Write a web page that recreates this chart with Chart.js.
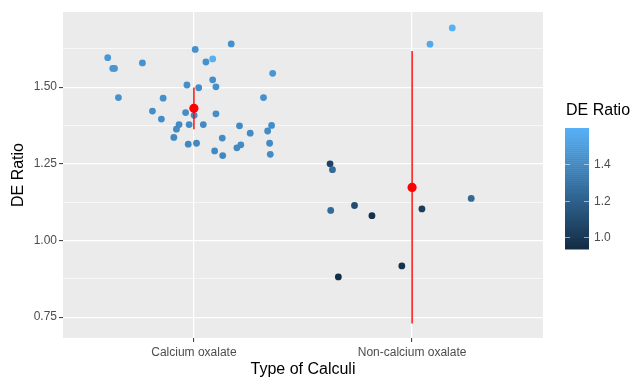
<!DOCTYPE html>
<html>
<head>
<meta charset="utf-8">
<script src="https://cdn.jsdelivr.net/npm/chart.js@4"></script>
<style>
  html, body { margin: 0; padding: 0; background: #fff; }
  #wrap { width: 634px; height: 377px; }
</style>
</head>
<body>
<div id="wrap"><canvas id="chart" width="634" height="377"></canvas></div>
<script>
// categories on the x axis
const categories = ["Calcium oxalate", "Non-calcium oxalate"];

// jittered points, Calcium oxalate
const caX = [0.605, 0.628, 0.636, 0.764, 1.006, 1.171, 1.086, 1.055, 1.361, 1.086,
             0.968, 1.022, 1.101, 0.654, 0.859, 1.319, 0.810, 0.962, 1.001, 1.101,
             0.851, 0.932, 0.920, 0.978, 1.043, 1.209, 1.356, 1.338, 1.258, 0.908,
             1.130, 0.974, 1.012, 1.215, 1.197, 1.347, 1.095, 1.132, 1.350];
const caY = [1.596, 1.561, 1.561, 1.579, 1.623, 1.641, 1.592, 1.582, 1.545, 1.524,
             1.507, 1.498, 1.501, 1.466, 1.464, 1.466, 1.422, 1.417, 1.408, 1.413,
             1.396, 1.378, 1.363, 1.378, 1.378, 1.374, 1.375, 1.357, 1.350, 1.336,
             1.334, 1.314, 1.317, 1.312, 1.302, 1.317, 1.292, 1.277, 1.281];
// DE ratio (colour) for each of those points
const caShade = [1.47, 1.46, 1.46, 1.45, 1.44, 1.44, 1.59, 1.44, 1.46, 1.43,
                 1.43, 1.42, 1.43, 1.44, 1.43, 1.44, 1.42, 1.42, 1.41, 1.42,
                 1.42, 1.41, 1.41, 1.41, 1.41, 1.41, 1.42, 1.41, 1.41, 1.40,
                 1.41, 1.40, 1.40, 1.41, 1.40, 1.41, 1.40, 1.40, 1.41];

// jittered points, Non-calcium oxalate
const ncX = [2.184, 2.082, 1.624, 1.635, 1.627, 1.736, 1.816, 2.045, 2.271, 1.953, 1.662];
const ncY = [1.693, 1.640, 1.250, 1.231, 1.098, 1.114, 1.081, 1.103, 1.137, 0.917, 0.881];
const ncShade = [1.595, 1.56, 1.06, 1.25, 1.25, 1.10, 0.96, 1.02, 1.24, 0.97, 0.95];

// summary: mean and error bar per category
const meanY = [1.431, 1.173];
const barLo = [1.363, 0.729];
const barHi = [1.499, 1.618];

// axis and legend ticks
const yTicks = [0.75, 1.00, 1.25, 1.50];
const legendTicks = [1.0, 1.2, 1.4];
const shadeMin = 0.937, shadeMax = 1.595;

const FONT = "'Liberation Sans', Arial, sans-serif";
const lowCol = [0x13, 0x2B, 0x43], highCol = [0x56, 0xB1, 0xF7];

function shadeColor(v) {
  let t = (v - shadeMin) / (shadeMax - shadeMin);
  t = Math.max(0, Math.min(1, t));
  const c = lowCol.map((a, i) => Math.round(a + (highCol[i] - a) * t));
  return `rgb(${c[0]},${c[1]},${c[2]})`;
}

// minor gridlines half way between the major ones
const yMinor = yTicks.slice(1).map((v, i) => (v + yTicks[i]) / 2);
yMinor.push(yTicks[yTicks.length - 1] + (yTicks[1] - yTicks[0]) / 2);
const isMajor = v => yTicks.some(t => Math.abs(t - v) < 1e-9);

const panelBg = {
  id: 'panelBg',
  beforeDraw(chart) {
    const { ctx, chartArea: a } = chart;
    ctx.save();
    ctx.fillStyle = '#EBEBEB';
    ctx.fillRect(a.left, a.top, a.right - a.left, a.bottom - a.top);
    ctx.restore();
  }
};

// colour bar legend on the right
const colorBar = {
  id: 'colorBar',
  afterDraw(chart) {
    const { ctx } = chart;
    const x0 = 565, w = 24, top = 128, bottom = 249;
    const valToY = v => bottom - (v - shadeMin) / (shadeMax - shadeMin) * (bottom - top);
    ctx.save();
    ctx.fillStyle = '#000';
    ctx.font = `16px ${FONT}`;
    ctx.textBaseline = 'middle';
    ctx.textAlign = 'left';
    ctx.fillText('DE Ratio', 566, 111);

    const steps = 60;
    for (let i = 0; i < steps; i++) {
      const v0 = shadeMin + (shadeMax - shadeMin) * i / steps;
      const v1 = shadeMin + (shadeMax - shadeMin) * (i + 1) / steps;
      ctx.fillStyle = shadeColor((v0 + v1) / 2);
      const y1 = valToY(v1), y0 = valToY(v0);
      ctx.fillRect(x0, y1, w, y0 - y1 + 0.5);
    }
    ctx.strokeStyle = 'rgba(255,255,255,0.55)';
    ctx.lineWidth = 1;
    ctx.font = `12px ${FONT}`;
    ctx.fillStyle = '#4D4D4D';
    legendTicks.forEach(v => {
      const y = Math.round(valToY(v)) + 0.5;
      ctx.beginPath();
      ctx.moveTo(x0, y); ctx.lineTo(x0 + 5, y);
      ctx.moveTo(x0 + w - 5, y); ctx.lineTo(x0 + w, y);
      ctx.stroke();
      ctx.fillText(v.toFixed(1), x0 + w + 5, y);
    });
    ctx.restore();
  }
};

const ctx = document.getElementById('chart').getContext('2d');
new Chart(ctx, {
  type: 'scatter',
  data: {
    datasets: [
      {
        label: 'mean',
        data: categories.map((c, i) => ({ x: i + 1, y: meanY[i] })),
        pointRadius: 4.6,
        pointBackgroundColor: '#FF0000',
        pointBorderWidth: 0,
        order: 0
      },
      ...categories.map((c, i) => ({
        label: 'bar ' + c,
        type: 'line',
        data: [{ x: i + 1, y: barLo[i] }, { x: i + 1, y: barHi[i] }],
        borderColor: '#FF0000',
        borderWidth: 1.4,
        pointRadius: 0,
        order: 1
      })),
      {
        label: categories[0],
        data: caX.map((x, i) => ({ x, y: caY[i] })),
        pointRadius: 3.4,
        pointBackgroundColor: caShade.map(shadeColor),
        pointBorderWidth: 0,
        order: 2
      },
      {
        label: categories[1],
        data: ncX.map((x, i) => ({ x, y: ncY[i] })),
        pointRadius: 3.4,
        pointBackgroundColor: ncShade.map(shadeColor),
        pointBorderWidth: 0,
        order: 2
      }
    ]
  },
  options: {
    responsive: false,
    animation: false,
    layout: { padding: { top: 12, right: 91, left: 0, bottom: 0 } },
    plugins: {
      legend: { display: false },
      tooltip: { enabled: false }
    },
    scales: {
      x: {
        type: 'linear',
        min: 0.4,
        max: 2.6,
        afterBuildTicks: s => { s.ticks = categories.map((c, i) => ({ value: i + 1 })); },
        afterFit: s => { s.height = 39; },
        border: { display: false },
        grid: { color: '#FFFFFF', lineWidth: 1.2, tickLength: 4, tickColor: '#333333', tickWidth: 1 },
        ticks: {
          autoSkip: false, maxRotation: 0, padding: 3,
          color: '#4D4D4D', font: { family: FONT, size: 12 },
          callback: v => categories[v - 1]
        },
        title: {
          display: true, text: 'Type of Calculi', color: '#000',
          font: { family: FONT, size: 16 }, padding: { top: 0, bottom: -2 }
        }
      },
      y: {
        min: 0.682,
        max: 1.745,
        afterBuildTicks: s => {
          s.ticks = yTicks.concat(yMinor).sort((a, b) => a - b).map(v => ({ value: v }));
        },
        afterFit: s => { s.width = 63; },
        border: { display: false },
        grid: {
          color: '#FFFFFF',
          lineWidth: c => isMajor(c.tick.value) ? 1.2 : 0.6,
          tickLength: 4,
          tickColor: c => isMajor(c.tick.value) ? '#333333' : 'rgba(0,0,0,0)',
          tickWidth: 1
        },
        ticks: {
          autoSkip: false, padding: 2,
          color: '#4D4D4D', font: { family: FONT, size: 12 },
          callback: v => isMajor(v) ? v.toFixed(2) : ''
        },
        title: {
          display: true, text: 'DE Ratio', color: '#000',
          font: { family: FONT, size: 16 }, padding: { top: 9, bottom: 0 }
        }
      }
    }
  },
  plugins: [panelBg, colorBar]
});
</script>
</body>
</html>
